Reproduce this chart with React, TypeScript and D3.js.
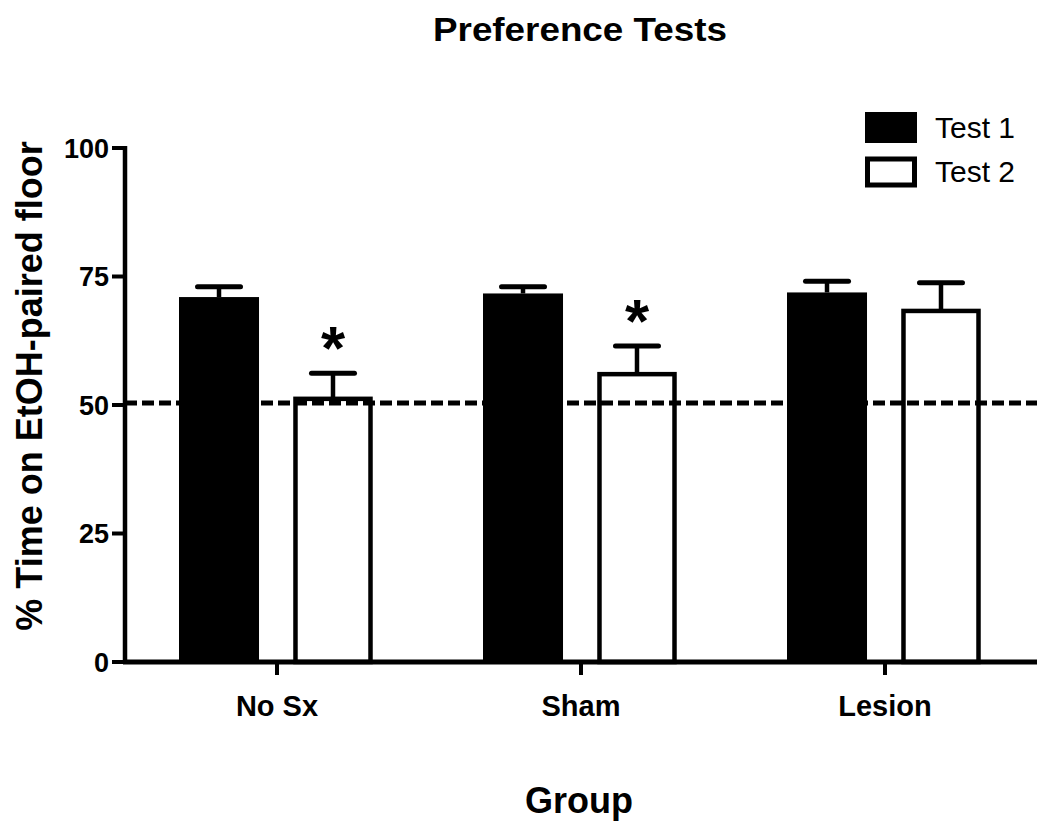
import React from "react";
import * as d3 from "d3";

const categories = ["No Sx", "Sham", "Lesion"];
const series = ["Test 1", "Test 2"];
const test1Values = [71.0, 71.7, 71.9];
const test1Sem = [2.0, 1.3, 2.2];
const test2Values = [51.2, 56.0, 68.3];
const test2Sem = [5.0, 5.5, 5.5];
const significant = [true, true, false]; // stars above Test 2
const yTicks = [0, 25, 50, 75, 100];
const chanceLevel = 50;

const W = 1050;
const H = 835;
const FONT = "'Liberation Sans', Arial, Helvetica, sans-serif";

export default function App() {
  const x0 = d3.scaleBand<string>().domain(categories).range([125, 1037]).padding(0);
  const x1 = d3.scaleBand<string>().domain(series).range([54, 248]).paddingInner(0.298).paddingOuter(0);
  const y = d3.scaleLinear().domain([0, 100]).range([662, 148]);

  const rows = categories.map((c, i) => ({
    cat: c,
    vals: [
      { s: series[0], v: test1Values[i], e: test1Sem[i] },
      { s: series[1], v: test2Values[i], e: test2Sem[i] },
    ],
    sig: significant[i],
  }));

  const bw = x1.bandwidth();
  const capW = 43;

  return (
    <svg width={W} height={H} viewBox={`0 0 ${W} ${H}`} style={{ display: "block", background: "#fff", margin: "-8px" }}>
      <rect x={0} y={0} width={W} height={H} fill="#fff" />
      {/* title */}
      <text x={580} y={41} textAnchor="middle" fontFamily={FONT} fontWeight="bold" fontSize={34} textLength={294} lengthAdjust="spacingAndGlyphs">
        Preference Tests
      </text>

      {/* bars */}
      {rows.map((r) => (
        <g key={r.cat} transform={`translate(${x0(r.cat)},0)`}>
          {r.vals.map((d, j) => {
            const bx = x1(d.s)!;
            const cx = bx + bw / 2;
            const top = y(d.v);
            const errTop = y(d.v + d.e);
            return (
              <g key={d.s}>
                {/* error bar */}
                <line x1={cx} x2={cx} y1={top} y2={errTop} stroke="#000" strokeWidth={4.5} />
                <line x1={cx - capW / 2} x2={cx + capW / 2} y1={errTop} y2={errTop} stroke="#000" strokeWidth={5} strokeLinecap="round" />
                {j === 0 ? (
                  <rect x={bx} y={top} width={bw} height={y(0) - top} fill="#000" />
                ) : (
                  <rect x={bx + 2.5} y={top} width={bw - 5} height={y(0) - top} fill="none" stroke="#000" strokeWidth={4.5} />
                )}
                {j === 1 && r.sig ? (
                  <text x={cx} y={errTop - 38 + 34} textAnchor="middle" fontFamily={FONT} fontWeight="bold" fontSize={62}>
                    *
                  </text>
                ) : null}
              </g>
            );
          })}
        </g>
      ))}

      {/* dashed chance line */}
      <line x1={125} x2={1037} y1={y(chanceLevel) - 2} y2={y(chanceLevel) - 2} stroke="#000" strokeWidth={5} strokeDasharray="12,5" />

      {/* y axis */}
      <line x1={125} x2={125} y1={y(100) - 2} y2={y(0) + 2} stroke="#000" strokeWidth={4.5} />
      {yTicks.map((t) => (
        <g key={t}>
          <line x1={112} x2={125} y1={y(t)} y2={y(t)} stroke="#000" strokeWidth={4} />
          <text x={109} y={y(t) + 9.5} textAnchor="end" fontFamily={FONT} fontWeight="bold" fontSize={27}>
            {t}
          </text>
        </g>
      ))}

      {/* x axis */}
      <line x1={123} x2={1037} y1={y(0)} y2={y(0)} stroke="#000" strokeWidth={5} />
      {categories.map((c) => {
        const cx = x0(c)! + x0.bandwidth() / 2;
        return (
          <g key={c}>
            <line x1={cx} x2={cx} y1={y(0)} y2={y(0) + 13} stroke="#000" strokeWidth={4} />
            <text x={cx} y={716} textAnchor="middle" fontFamily={FONT} fontWeight="bold" fontSize={29}>
              {c}
            </text>
          </g>
        );
      })}

      {/* axis titles */}
      <text x={579} y={813} textAnchor="middle" fontFamily={FONT} fontWeight="bold" fontSize={36}>
        Group
      </text>
      <text
        transform={`translate(42,386) rotate(-90)`}
        textAnchor="middle"
        fontFamily={FONT}
        fontWeight="bold"
        fontSize={36}
      >
        % Time on EtOH-paired floor
      </text>

      {/* legend */}
      <rect x={865} y={112} width={52} height={31} fill="#000" />
      <text x={935} y={138} fontFamily={FONT} fontSize={30}>
        {series[0]}
      </text>
      <rect x={867.5} y={159} width={47} height={26} fill="#fff" stroke="#000" strokeWidth={5} />
      <text x={935} y={182} fontFamily={FONT} fontSize={30}>
        {series[1]}
      </text>
    </svg>
  );
}
